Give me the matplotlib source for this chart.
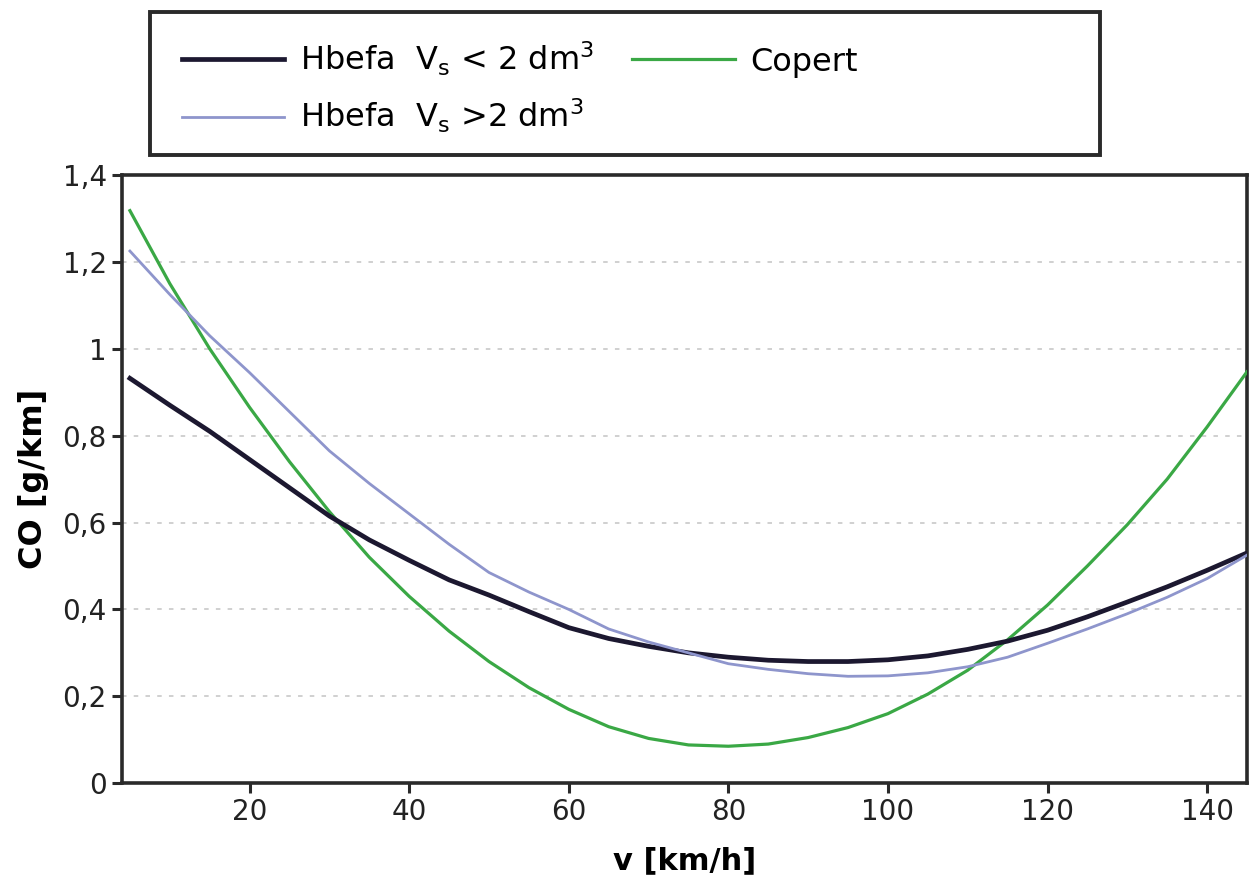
import matplotlib
matplotlib.use("Agg")
import matplotlib.pyplot as plt
from matplotlib.patches import Rectangle

# speed [km/h]
speed = [5, 10, 15, 20, 25, 30, 35, 40, 45, 50, 55, 60, 65, 70, 75,
         80, 85, 90, 95, 100, 105, 110, 115, 120, 125, 130, 135, 140, 145]

# CO emission factors [g/km]
hbefa_small = [0.932, 0.87, 0.81, 0.745, 0.68, 0.615, 0.56, 0.513, 0.468, 0.433,
               0.395, 0.358, 0.333, 0.315, 0.30, 0.29, 0.283, 0.28, 0.28, 0.284,
               0.293, 0.308, 0.327, 0.352, 0.383, 0.417, 0.452, 0.49, 0.53]
hbefa_large = [1.225, 1.125, 1.03, 0.945, 0.855, 0.765, 0.69, 0.62, 0.55, 0.485,
               0.44, 0.40, 0.355, 0.325, 0.30, 0.275, 0.262, 0.252, 0.246, 0.247,
               0.254, 0.268, 0.29, 0.322, 0.355, 0.39, 0.428, 0.471, 0.525]
copert = [1.318, 1.15, 1.0, 0.865, 0.74, 0.625, 0.52, 0.43, 0.35, 0.28,
          0.22, 0.17, 0.13, 0.103, 0.088, 0.085, 0.09, 0.105, 0.128, 0.16,
          0.205, 0.26, 0.33, 0.41, 0.50, 0.595, 0.70, 0.82, 0.947]

x_ticks = [20, 40, 60, 80, 100, 120, 140]
y_ticks = [0, 0.2, 0.4, 0.6, 0.8, 1.0, 1.2, 1.4]
y_tick_labels = ["0", "0,2", "0,4", "0,6", "0,8", "1", "1,2", "1,4"]

plt.rcParams['font.family'] = ['DejaVu Sans']

fig = plt.figure(figsize=(12.52, 8.93), dpi=100)
ax = fig.add_axes([0.0974, 0.123, 0.8986, 0.681])

l1, = ax.plot(speed, hbefa_small, color='#1c1830', lw=3.4, zorder=4)
l3, = ax.plot(speed, copert, color='#3aa845', lw=2.3, zorder=3)
l2, = ax.plot(speed, hbefa_large, color='#8e95cc', lw=2.0, zorder=5)

ax.set_xlim(4, 145)
ax.set_ylim(0, 1.4)
ax.set_xticks(x_ticks)
ax.set_yticks(y_ticks)
ax.set_yticklabels(y_tick_labels)

for y in y_ticks[1:-1]:
    ax.axhline(y, color='#cdcdcd', lw=1.3, ls=(0, (2.5, 4)), zorder=1)

for s in ax.spines.values():
    s.set_linewidth(2.6)
    s.set_color('#2a2a2a')
ax.tick_params(direction='out', length=7, width=2.2, color='#2a2a2a',
               labelsize=20, labelcolor='#222222', pad=4)

ax.set_xlabel('v [km/h]', fontsize=22, fontweight='bold', labelpad=14)
ax.set_ylabel('CO [g/km]', fontsize=23, fontweight='bold', labelpad=10)

# legend above the plot with its own heavy frame
fig.patches.append(Rectangle((150 / 1252, 1 - 155 / 893), 950 / 1252, 143 / 893,
                             transform=fig.transFigure, fill=False,
                             edgecolor='#2a2a2a', lw=2.8))
fig.legend([l1, l2, l3],
           [r'Hbefa  V$_\mathregular{s}$ < 2 dm$^\mathregular{3}$',
            r'Hbefa  V$_\mathregular{s}$ >2 dm$^\mathregular{3}$', 'Copert'],
           loc='upper left', bbox_to_anchor=(166 / 1252, 1 - 24 / 893),
           ncol=2, frameon=False, fontsize=23, borderpad=0,
           handlelength=3.2, handletextpad=0.5, columnspacing=1.2,
           labelspacing=0.6)

fig.savefig('out.png', dpi=100)
